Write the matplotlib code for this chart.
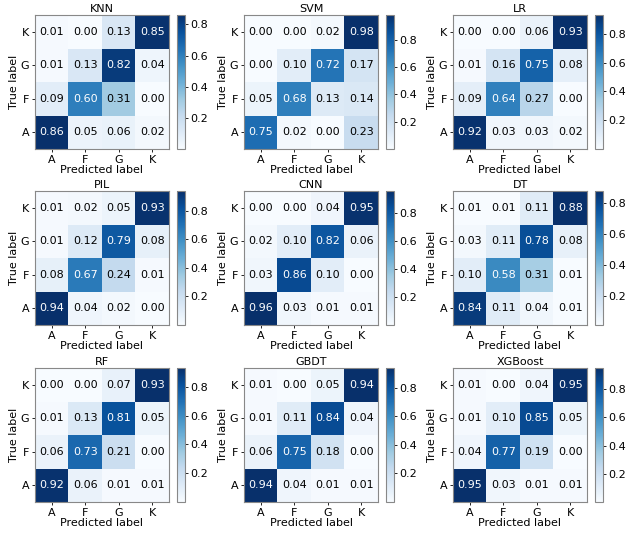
import matplotlib
matplotlib.use("Agg")
import matplotlib.pyplot as plt
import numpy as np

labels = ["A", "F", "G", "K"]
models = ["KNN", "SVM", "LR", "PIL", "CNN", "DT", "RF", "GBDT", "XGBoost"]

# rows: true label A, F, G, K ; columns: predicted A, F, G, K
knn = [[0.86, 0.05, 0.06, 0.02], [0.09, 0.60, 0.31, 0.00], [0.01, 0.13, 0.82, 0.04], [0.01, 0.00, 0.13, 0.85]]
svm = [[0.75, 0.02, 0.00, 0.23], [0.05, 0.68, 0.13, 0.14], [0.00, 0.10, 0.72, 0.17], [0.00, 0.00, 0.02, 0.98]]
lr = [[0.92, 0.03, 0.03, 0.02], [0.09, 0.64, 0.27, 0.00], [0.01, 0.16, 0.75, 0.08], [0.00, 0.00, 0.06, 0.93]]
pil = [[0.94, 0.04, 0.02, 0.00], [0.08, 0.67, 0.24, 0.01], [0.01, 0.12, 0.79, 0.08], [0.01, 0.02, 0.05, 0.93]]
cnn = [[0.96, 0.03, 0.01, 0.01], [0.03, 0.86, 0.10, 0.00], [0.02, 0.10, 0.82, 0.06], [0.00, 0.00, 0.04, 0.95]]
dt = [[0.84, 0.11, 0.04, 0.01], [0.10, 0.58, 0.31, 0.01], [0.03, 0.11, 0.78, 0.08], [0.01, 0.01, 0.11, 0.88]]
rf = [[0.92, 0.06, 0.01, 0.01], [0.06, 0.73, 0.21, 0.00], [0.01, 0.13, 0.81, 0.05], [0.00, 0.00, 0.07, 0.93]]
gbdt = [[0.94, 0.04, 0.01, 0.01], [0.06, 0.75, 0.18, 0.00], [0.01, 0.11, 0.84, 0.04], [0.01, 0.00, 0.05, 0.94]]
xgb = [[0.95, 0.03, 0.01, 0.01], [0.04, 0.77, 0.19, 0.00], [0.01, 0.10, 0.85, 0.05], [0.01, 0.00, 0.04, 0.95]]
matrices = [knn, svm, lr, pil, cnn, dt, rf, gbdt, xgb]

W, H = 632, 534
fig = plt.figure(figsize=(W / 100, H / 100), dpi=100)

lefts = [35, 244, 453]
tops = [15, 191, 368]
size = 134
cb_gap, cb_w = 8, 8
fs = 8

for k, (name, m) in enumerate(zip(models, matrices)):
    r, c = divmod(k, 3)
    x0, y0 = lefts[c], tops[r]
    ax = fig.add_axes([x0 / W, 1 - (y0 + size) / H, size / W, size / H])
    cax = fig.add_axes([(x0 + size + cb_gap) / W, 1 - (y0 + size) / H, cb_w / W, size / H])
    arr = np.array(m)
    im = ax.imshow(arr, cmap="Blues", origin="lower", aspect="auto")
    thr = (arr.max() + arr.min()) / 2
    for i in range(4):
        for j in range(4):
            ax.text(j, i, f"{arr[i, j]:.2f}", ha="center", va="center",
                    color="white" if arr[i, j] > thr else "black", fontsize=fs)
    ax.set_xticks(range(4))
    ax.set_xticklabels(labels, fontsize=fs)
    ax.set_yticks(range(4))
    ax.set_yticklabels(labels, fontsize=fs)
    ax.set_xlabel("Predicted label", fontsize=fs, labelpad=0.5)
    ax.set_ylabel("True label", fontsize=fs, labelpad=1)
    ax.set_title(name, fontsize=fs, pad=2.5)
    ax.tick_params(length=2.5, width=0.6, pad=1.5)
    for s in ax.spines.values():
        s.set_edgecolor("#888888")
    cb = fig.colorbar(im, cax=cax)
    cb.set_ticks([0.2, 0.4, 0.6, 0.8])
    cb.ax.tick_params(labelsize=fs, length=2.5, width=0.6, pad=1.5)
    cb.outline.set_edgecolor("#888888")

fig.savefig("out.png", dpi=100)
